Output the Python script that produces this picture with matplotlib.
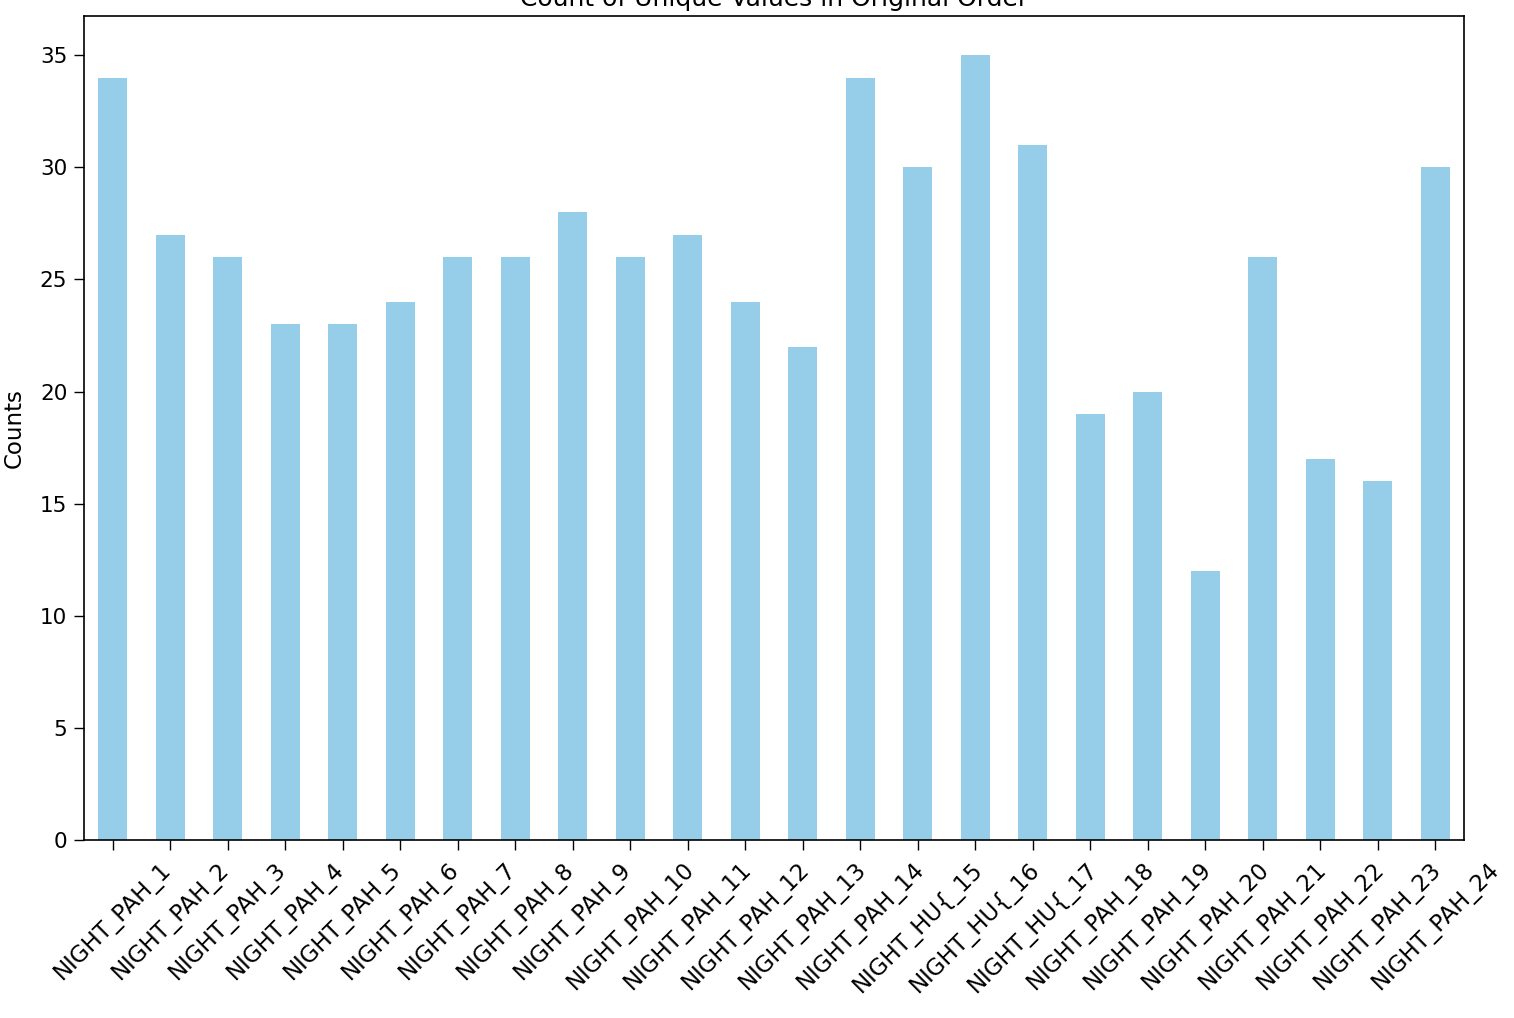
import matplotlib
matplotlib.use("Agg")
import matplotlib.pyplot as plt
import numpy as np

labels = ["NIGHT_PAH_" + str(i) for i in range(1, 15)] + \
         ["NIGHT_HU{_15", "NIGHT_HU{_16", "NIGHT_HU{_17"] + \
         ["NIGHT_PAH_" + str(i) for i in range(18, 25)]
counts = [34, 27, 26, 23, 23, 24, 26, 26, 28, 26, 27, 24, 22, 34,
          30, 35, 31, 19, 20, 12, 26, 17, 16, 30]

fig = plt.figure(figsize=(15.14, 10.18), dpi=100)
ax = fig.add_axes([0.0555, 0.1749, 0.9115, 0.8094])

x = np.arange(len(counts))
ax.bar(x, counts, width=0.5, color="#96cde8")
ax.set_xlim(-0.5, len(counts) - 0.5)
ax.set_ylim(0, 36.75)
ax.set_xticks(x)
ax.set_xticklabels(labels, rotation=45, ha="center", fontsize=16.5)
ax.tick_params(axis="x", pad=6)
ax.tick_params(axis="y", labelsize=15.5, pad=5)
ax.tick_params(length=7, width=1.0)
for s in ax.spines.values():
    s.set_linewidth(1.2)
ax.set_ylabel("Counts", fontsize=16.5, labelpad=10)
ax.set_title("Count of Unique Values in Original Order", fontsize=18, pad=7)

fig.savefig("out.png", dpi=100)
